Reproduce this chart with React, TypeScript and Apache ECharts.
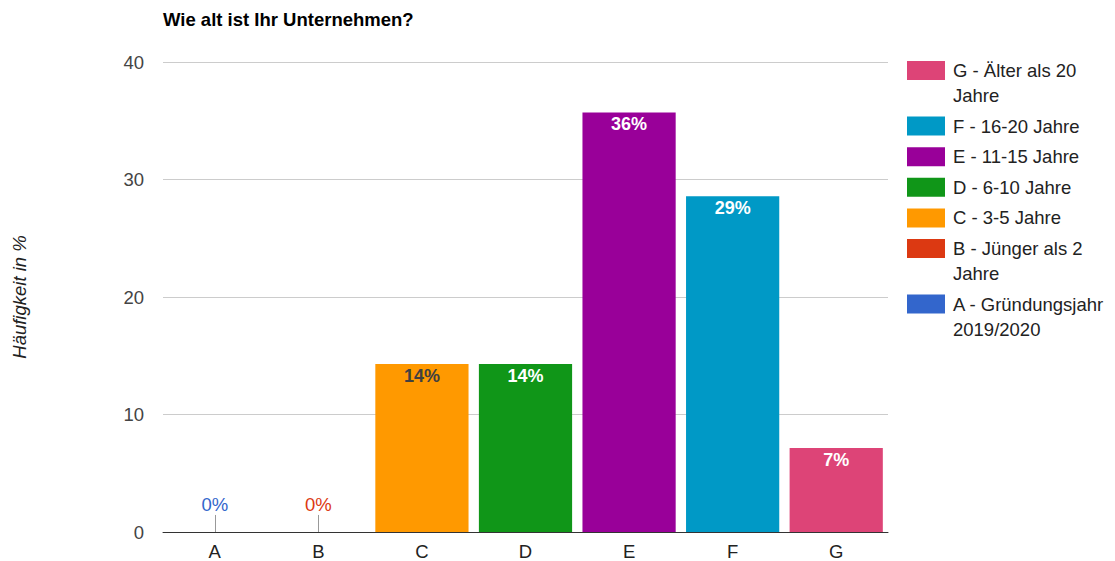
import React, { useEffect, useRef } from "react";
import * as echarts from "echarts";

const categories = ["A", "B", "C", "D", "E", "F", "G"];
const seriesNames = [
  "A - Gründungsjahr 2019/2020",
  "B - Jünger als 2 Jahre",
  "C - 3-5 Jahre",
  "D - 6-10 Jahre",
  "E - 11-15 Jahre",
  "F - 16-20 Jahre",
  "G - Älter als 20 Jahre",
];
const legendLines = [
  ["A - Gründungsjahr", "2019/2020"],
  ["B - Jünger als 2", "Jahre"],
  ["C - 3-5 Jahre"],
  ["D - 6-10 Jahre"],
  ["E - 11-15 Jahre"],
  ["F - 16-20 Jahre"],
  ["G - Älter als 20", "Jahre"],
];
const values = [0, 0, 14.29, 14.29, 35.71, 28.57, 7.14];
const colors = ["#3366cc", "#dc3912", "#ff9900", "#109618", "#990099", "#0099c6", "#dd4477"];
const labelColors = ["#3366cc", "#dc3912", "#404040", "#ffffff", "#ffffff", "#ffffff", "#ffffff"];
const yTicks = [0, 10, 20, 30, 40];

const FONT = "'Liberation Sans', Arial, sans-serif";
const FS = 18.5;

export default function App() {
  const ref = useRef<HTMLDivElement>(null);
  useEffect(() => {
    if (!ref.current) return;
    const chart = echarts.init(ref.current, undefined, { renderer: "svg" });

    const rich: Record<string, any> = {
      sp: { width: 38, lineHeight: 25 },
      t: { fontSize: FS, lineHeight: 25, color: "#222222", fontFamily: FONT, padding: [0, 0, 0, 8] },
    };
    categories.forEach((c, i) => {
      rich["b" + c] = { width: 38, height: 19, lineHeight: 25, backgroundColor: colors[i] };
    });

    const series: any[] = categories.map((c, i) => {
      const zero = values[i] === 0;
      const s: any = {
        name: seriesNames[i],
        type: "bar",
        stack: "total",
        barCategoryGap: "10%",
        itemStyle: { color: colors[i] },
        data: categories.map((_, j) => (j === i ? values[i] : "-")),
        label: {
          show: true,
          position: zero ? "top" : "insideTop",
          distance: zero ? 18 : 3,
          color: labelColors[i],
          fontSize: zero ? FS : 18,
          fontFamily: FONT,
          fontWeight: zero ? "normal" : "bold",
          formatter: (p: any) => Math.round(p.value) + "%",
        },
      };
      if (zero) {
        s.markLine = {
          silent: true,
          symbol: ["none", "none"],
          lineStyle: { color: "#999999", width: 1, type: "solid" },
          label: { show: false },
          data: [[{ coord: [c, 0] }, { coord: [c, 1.45] }]],
        };
      }
      return s;
    });

    chart.setOption({
      animation: false,
      backgroundColor: "#ffffff",
      title: {
        text: "Wie alt ist Ihr Unternehmen?",
        left: 163,
        top: 10,
        padding: 0,
        textStyle: { fontSize: FS, fontWeight: "bold", color: "#000000", fontFamily: FONT },
      },
      legend: {
        orient: "vertical",
        left: 902,
        top: 58,
        padding: 0,
        itemGap: 5.6,
        itemWidth: 0,
        itemHeight: 0,
        icon: "rect",
        data: [...seriesNames].reverse(),
        formatter: (name: string) => {
          const i = seriesNames.indexOf(name);
          const lines = legendLines[i];
          return lines
            .map((l, k) => (k === 0 ? `{b${categories[i]}|}{t|${l}}` : `{sp|}{t|${l}}`))
            .join("\n");
        },
        textStyle: { rich, fontFamily: FONT, fontSize: FS, lineHeight: 25 },
      },
      grid: { left: 163, right: 227, top: 62, bottom: 29, containLabel: false },
      xAxis: {
        type: "category",
        data: categories,
        axisTick: { show: false },
        axisLine: { show: true, lineStyle: { color: "#333333", width: 1 } },
        axisLabel: { color: "#222222", fontSize: FS, fontFamily: FONT, margin: 10 },
      },
      yAxis: {
        type: "value",
        min: yTicks[0],
        max: yTicks[yTicks.length - 1],
        interval: 10,
        name: "Häufigkeit in %",
        nameLocation: "middle",
        nameGap: 134,
        nameRotate: 90,
        nameTextStyle: { fontSize: FS, fontStyle: "italic", color: "#222222", fontFamily: FONT },
        axisLine: { show: false },
        axisTick: { show: false },
        axisLabel: { color: "#444444", fontSize: FS, fontFamily: FONT, margin: 19 },
        splitLine: { lineStyle: { color: "#cccccc", width: 1 } },
      },
      series,
    });
    return () => chart.dispose();
  }, []);
  return <div ref={ref} style={{ width: 1115, height: 561, position: "absolute", left: 0, top: 0 }} />;
}
